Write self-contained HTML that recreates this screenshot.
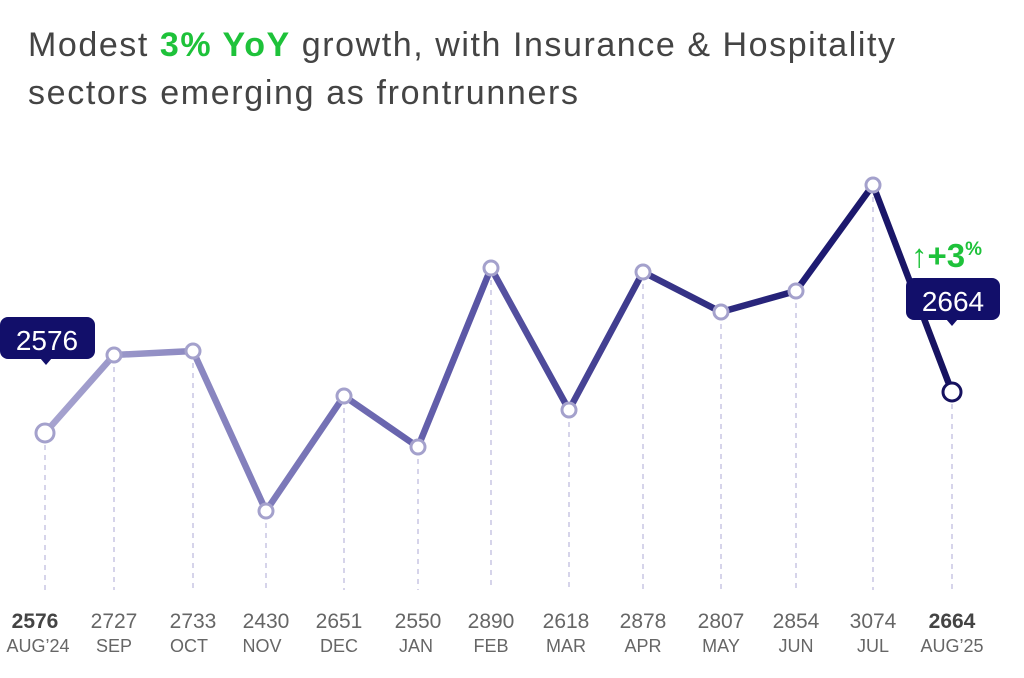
<!DOCTYPE html>
<html><head><meta charset="utf-8"><style>
body{margin:0;background:#fff;width:1024px;height:673px;overflow:hidden;font-family:"Liberation Sans",sans-serif}
</style></head><body>
<svg width="1024" height="673" viewBox="0 0 1024 673" xmlns="http://www.w3.org/2000/svg">
<defs>
<linearGradient id="g" gradientUnits="userSpaceOnUse" x1="45" y1="0" x2="952" y2="0">
<stop offset="0" stop-color="#a7a4d0"/>
<stop offset="0.45" stop-color="#5e5aa8"/>
<stop offset="0.85" stop-color="#1e1b72"/>
<stop offset="1" stop-color="#16125f"/>
</linearGradient>
</defs>
<text x="28" y="56" font-size="34" fill="#444" textLength="867" lengthAdjust="spacing">Modest <tspan fill="#1ec23a" font-weight="bold">3% YoY</tspan> growth, with Insurance &amp; Hospitality</text>
<text x="28" y="104" font-size="34" fill="#444" textLength="550" lengthAdjust="spacing">sectors emerging as frontrunners</text>
<g stroke="#c9c6e4" stroke-width="1.5" stroke-dasharray="5,5">
<line x1="45" y1="445" x2="45" y2="590"/><line x1="114" y1="367" x2="114" y2="590"/>
<line x1="193" y1="363" x2="193" y2="590"/><line x1="266" y1="523" x2="266" y2="590"/>
<line x1="344" y1="408" x2="344" y2="590"/><line x1="418" y1="459" x2="418" y2="590"/>
<line x1="491" y1="280" x2="491" y2="590"/><line x1="569" y1="422" x2="569" y2="590"/>
<line x1="643" y1="284" x2="643" y2="590"/><line x1="721" y1="324" x2="721" y2="590"/>
<line x1="796" y1="303" x2="796" y2="590"/><line x1="873" y1="197" x2="873" y2="590"/>
<line x1="952" y1="404" x2="952" y2="590"/>
</g>
<polyline points="45,433 114,355 193,351 266,511 344,396 418,447 491,268 569,410 643,272 721,312 796,291 873,185 952,392" fill="none" stroke="url(#g)" stroke-width="6.5" stroke-linejoin="round"/>
<g fill="#fff" stroke-width="3">
<circle cx="45" cy="433" r="9" stroke="#a4a1cc"/><circle cx="114" cy="355" r="7" stroke="#a4a1cc"/>
<circle cx="193" cy="351" r="7" stroke="#a4a1cc"/><circle cx="266" cy="511" r="7" stroke="#a4a1cc"/>
<circle cx="344" cy="396" r="7" stroke="#a4a1cc"/><circle cx="418" cy="447" r="7" stroke="#a4a1cc"/>
<circle cx="491" cy="268" r="7" stroke="#a4a1cc"/><circle cx="569" cy="410" r="7" stroke="#a4a1cc"/>
<circle cx="643" cy="272" r="7" stroke="#a4a1cc"/><circle cx="721" cy="312" r="7" stroke="#a4a1cc"/>
<circle cx="796" cy="291" r="7" stroke="#a4a1cc"/><circle cx="873" cy="185" r="7" stroke="#a4a1cc"/>
<circle cx="952" cy="392" r="9" stroke="#16125f"/>
</g>
<rect x="0" y="317" width="95" height="42" rx="8" fill="#120f6a"/>
<polygon points="40,358 52,358 46,365" fill="#120f6a"/>
<text x="47" y="350" font-size="28" fill="#fff" text-anchor="middle">2576</text>
<rect x="906" y="278" width="94" height="42" rx="8" fill="#120f6a"/>
<polygon points="946,319 958,319 952,326" fill="#120f6a"/>
<text x="953" y="311" font-size="28" fill="#fff" text-anchor="middle">2664</text>
<text x="911" y="267" font-size="33" fill="#1ec23a" font-weight="bold">↑+3<tspan font-size="19" dy="-12">%</tspan></text>
<g font-size="21" fill="#666" text-anchor="middle">
<text x="35" y="628" font-weight="bold" fill="#444">2576</text><text x="114" y="628">2727</text><text x="193" y="628">2733</text><text x="266" y="628">2430</text><text x="339" y="628">2651</text><text x="418" y="628">2550</text><text x="491" y="628">2890</text><text x="566" y="628">2618</text><text x="643" y="628">2878</text><text x="721" y="628">2807</text><text x="796" y="628">2854</text><text x="873" y="628">3074</text><text x="952" y="628" font-weight="bold" fill="#444">2664</text>
</g>
<g font-size="18" fill="#666" text-anchor="middle">
<text x="38" y="652">AUG’24</text><text x="114" y="652">SEP</text><text x="189" y="652">OCT</text><text x="262" y="652">NOV</text><text x="339" y="652">DEC</text><text x="416" y="652">JAN</text><text x="491" y="652">FEB</text><text x="566" y="652">MAR</text><text x="643" y="652">APR</text><text x="721" y="652">MAY</text><text x="796" y="652">JUN</text><text x="873" y="652">JUL</text><text x="952" y="652">AUG’25</text>
</g>
</svg>
</body></html>
